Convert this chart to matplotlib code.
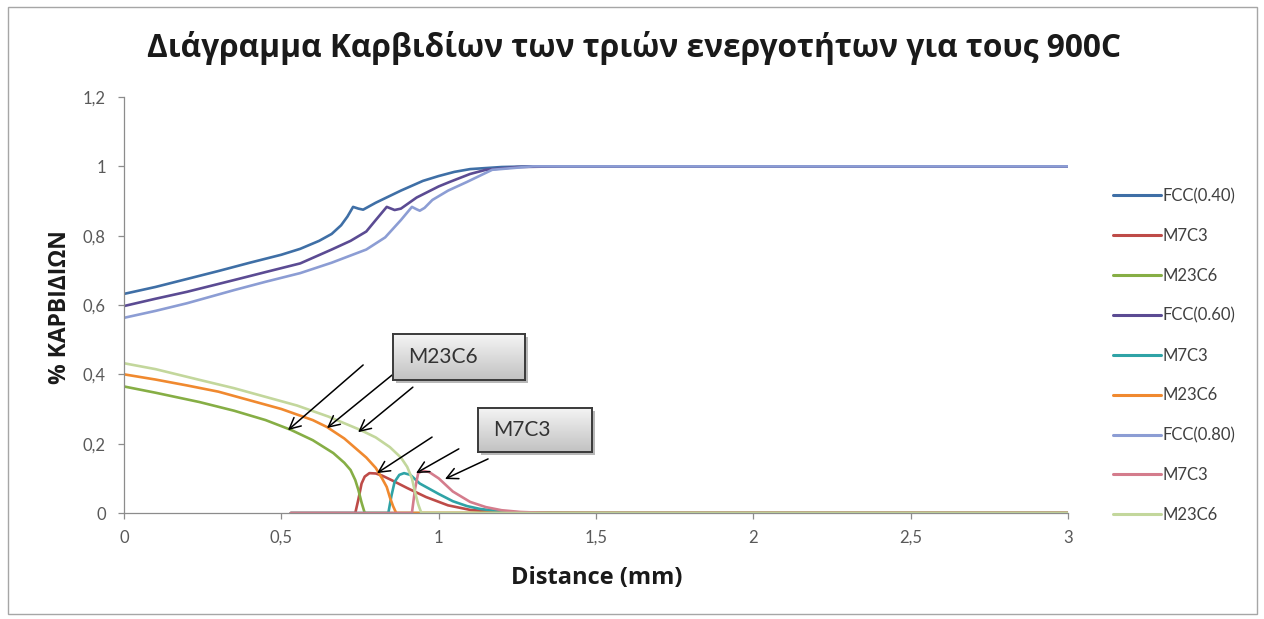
import numpy as np
import matplotlib
matplotlib.use("Agg")
import matplotlib.pyplot as plt
from matplotlib.ticker import FuncFormatter, MultipleLocator
from matplotlib.patches import Rectangle

# ---- data ----
fcc40_x = [0, 0.1, 0.2, 0.3, 0.4, 0.5, 0.56, 0.62, 0.66, 0.69, 0.71, 0.728, 0.745, 0.76,
           0.8, 0.88, 0.95, 1.0, 1.05, 1.1, 1.2, 1.3, 1.5, 2.0, 2.5, 3.0]
fcc40_y = [0.632, 0.652, 0.675, 0.698, 0.722, 0.745, 0.762, 0.785, 0.805, 0.83, 0.855, 0.883,
           0.878, 0.875, 0.895, 0.93, 0.958, 0.972, 0.984, 0.992, 0.998, 1.0, 1.0, 1.0, 1.0, 1.0]

fcc60_x = [0, 0.1, 0.2, 0.35, 0.45, 0.56, 0.66, 0.72, 0.77, 0.8, 0.835, 0.86, 0.88, 0.93,
           1.0, 1.035, 1.1, 1.15, 1.25, 1.4, 2.0, 3.0]
fcc60_y = [0.597, 0.618, 0.638, 0.672, 0.695, 0.72, 0.76, 0.785, 0.812, 0.845, 0.883, 0.874,
           0.878, 0.91, 0.942, 0.955, 0.978, 0.99, 0.998, 1.0, 1.0, 1.0]

fcc80_x = [0, 0.1, 0.2, 0.35, 0.45, 0.56, 0.66, 0.77, 0.83, 0.88, 0.915, 0.93, 0.94, 0.955,
           0.98, 1.03, 1.09, 1.17, 1.3, 1.5, 2.0, 3.0]
fcc80_y = [0.563, 0.583, 0.605, 0.643, 0.667, 0.692, 0.722, 0.76, 0.795, 0.845, 0.883, 0.876,
           0.872, 0.88, 0.903, 0.93, 0.955, 0.99, 1.0, 1.0, 1.0, 1.0]

m23_40_x = [0, 0.1, 0.24, 0.35, 0.45, 0.53, 0.6, 0.665, 0.7, 0.72, 0.735, 0.745, 0.755,
            0.765, 0.8, 1.0, 1.5, 2.0, 2.5, 3.0]
m23_40_y = [0.365, 0.347, 0.32, 0.295, 0.268, 0.24, 0.21, 0.173, 0.145, 0.124, 0.095, 0.066,
            0.03, 0.0, 0, 0, 0, 0, 0, 0]

m23_60_x = [0, 0.1, 0.2, 0.3, 0.4, 0.5, 0.6, 0.645, 0.7, 0.77, 0.8, 0.82, 0.835, 0.845,
            0.855, 0.865, 0.9, 1.5, 2.0, 3.0]
m23_60_y = [0.40, 0.385, 0.368, 0.35, 0.325, 0.3, 0.268, 0.248, 0.215, 0.16, 0.13, 0.10,
            0.075, 0.045, 0.02, 0, 0, 0, 0, 0]

m23_80_x = [0, 0.1, 0.24, 0.35, 0.45, 0.55, 0.65, 0.75, 0.8, 0.845, 0.88, 0.9, 0.915,
            0.925, 0.935, 0.945, 1.0, 1.5, 2.0, 3.0]
m23_80_y = [0.432, 0.415, 0.384, 0.36, 0.335, 0.31, 0.278, 0.24, 0.218, 0.19, 0.16, 0.133,
            0.1, 0.06, 0.025, 0, 0, 0, 0, 0]

m7_40_x = [0.53, 0.7, 0.735, 0.745, 0.755, 0.765, 0.78, 0.8, 0.82, 0.85, 0.9, 0.96, 1.03,
           1.1, 1.2, 1.5, 2.0, 3.0]
m7_40_y = [0, 0, 0, 0.04, 0.085, 0.105, 0.115, 0.114, 0.108, 0.095, 0.072, 0.046, 0.022,
           0.009, 0.002, 0, 0, 0]

m7_60_x = [0.53, 0.8, 0.84, 0.85, 0.86, 0.875, 0.89, 0.91, 0.94, 0.97, 1.0, 1.045, 1.09,
           1.13, 1.2, 1.3, 1.5, 3.0]
m7_60_y = [0, 0, 0, 0.05, 0.09, 0.11, 0.115, 0.11, 0.085, 0.07, 0.055, 0.034, 0.02, 0.012,
           0.004, 0, 0, 0]

m7_80_x = [0.53, 0.9, 0.915, 0.925, 0.935, 0.95, 0.97, 1.0, 1.045, 1.1, 1.15, 1.2, 1.26,
           1.35, 1.5, 3.0]
m7_80_y = [0, 0, 0, 0.07, 0.115, 0.122, 0.118, 0.1, 0.062, 0.032, 0.017, 0.008, 0.003, 0,
           0, 0]

series = [
    ("FCC(0.40)", fcc40_x, fcc40_y, "#3F6FA6"),
    ("M7C3", m7_40_x, m7_40_y, "#BE4B48"),
    ("M23C6", m23_40_x, m23_40_y, "#86AE45"),
    ("FCC(0.60)", fcc60_x, fcc60_y, "#5B4B93"),
    ("M7C3", m7_60_x, m7_60_y, "#2FA3A6"),
    ("M23C6", m23_60_x, m23_60_y, "#F0892F"),
    ("FCC(0.80)", fcc80_x, fcc80_y, "#8C9DD4"),
    ("M7C3", m7_80_x, m7_80_y, "#D47C8C"),
    ("M23C6", m23_80_x, m23_80_y, "#C3D79C"),
]

# annotation callouts: (label, box in pixels [x0, y0, x1, y1], arrows as (start, tip) in data)
callouts = [
    ("M23C6", (393, 334, 525, 380),
     [((0.760, 0.427), (0.521, 0.239)),
      ((0.852, 0.398), (0.645, 0.245)),
      ((0.918, 0.363), (0.744, 0.233))]),
    ("M7C3", (478, 408, 592, 452),
     [((0.979, 0.219), (0.804, 0.115)),
      ((1.064, 0.185), (0.928, 0.115)),
      ((1.157, 0.156), (1.020, 0.098))]),
]

W, H = 1264, 619
fig = plt.figure(figsize=(W / 100, H / 100), dpi=100)
ax = fig.add_axes([124 / W, 1 - 513 / H, (1068 - 124) / W, (513 - 97) / H])

for label, xs, ys, color in series:
    ax.plot(xs, ys, color=color, lw=1.9, label=label, solid_capstyle="round")

ax.set_xlim(0, 3)
ax.set_ylim(0, 1.2)
ax.xaxis.set_major_locator(MultipleLocator(0.5))
ax.yaxis.set_major_locator(MultipleLocator(0.2))
fmt = FuncFormatter(lambda v, pos: f"{v:.10g}".replace(".", ","))
ax.xaxis.set_major_formatter(fmt)
ax.yaxis.set_major_formatter(fmt)

for side in ("top", "right"):
    ax.spines[side].set_visible(False)
for side in ("left", "bottom"):
    ax.spines[side].set_color("#8C8C8C")
    ax.spines[side].set_linewidth(0.9)
ax.tick_params(direction="out", length=4, width=0.9, color="#8C8C8C",
               labelcolor="#595959", labelsize=12)
ax.tick_params(axis="y", pad=9)
ax.tick_params(axis="x", pad=8)
for lab in ax.get_xticklabels() + ax.get_yticklabels():
    lab.set_family(["Lato", "DejaVu Sans"])

fig.text(634 / W, 1 - 48 / H,
         "Διάγραμμα Καρβιδίων των τριών ενεργοτήτων για τους 900C",
         ha="center", va="center", fontsize=22.8, fontweight="bold",
         family=["Open Sans", "DejaVu Sans"], color="#1a1a1a")
fig.text(60 / W, 1 - 307 / H, "% ΚΑΡΒΙΔΙΩΝ", rotation=90, ha="center", va="center",
         fontsize=16.5, fontweight="bold", family=["Open Sans", "DejaVu Sans"], color="#1a1a1a")
fig.text(597 / W, 1 - 578 / H, "Distance (mm)", ha="center", va="center",
         fontsize=17, fontweight="bold", family=["Open Sans", "DejaVu Sans"], color="#1a1a1a")

leg = fig.legend(loc="upper left", bbox_to_anchor=(1098 / W, 1 - 173 / H),
                 frameon=False, handlelength=2.9, handletextpad=0.1,
                 labelspacing=1.43, prop={"family": ["Lato", "DejaVu Sans"], "size": 12})
for t in leg.get_texts():
    t.set_color("#404040")
for ln in leg.get_lines():
    ln.set_linewidth(2.2)

# callout boxes and arrows
shade = np.linspace(0.96, 0.76, 64)
grad = np.stack([shade, shade, shade], axis=-1).reshape(-1, 1, 3)
for text, (x0, y0, x1, y1), arrows in callouts:
    shadow = Rectangle(((x0 + 3) / W, 1 - (y1 + 3) / H), (x1 - x0) / W, (y1 - y0) / H,
                       transform=fig.transFigure, facecolor="#8a8a8a", edgecolor="none",
                       alpha=0.6, zorder=5)
    fig.patches.append(shadow)
    bax = fig.add_axes([x0 / W, 1 - y1 / H, (x1 - x0) / W, (y1 - y0) / H], zorder=6)
    bax.imshow(grad, aspect="auto", extent=(0, 1, 0, 1), origin="upper")
    bax.set_xticks([])
    bax.set_yticks([])
    for sp in bax.spines.values():
        sp.set_color("#3a3a3a")
        sp.set_linewidth(1.4)
    bax.text(15 / (x1 - x0), 0.5, text, ha="left", va="center", fontsize=15,
             family=["Lato", "DejaVu Sans"], color="#333333", transform=bax.transAxes)
    for start, tip in arrows:
        ax.annotate("", xy=tip, xytext=start, xycoords="data", textcoords="data",
                    arrowprops=dict(arrowstyle="->", color="black", lw=1.1,
                                    mutation_scale=20, shrinkA=0, shrinkB=0))

# outer chart border
fig.patches.append(Rectangle((8 / W, 5 / H), (1257 - 8) / W, (614 - 7) / H,
                             transform=fig.transFigure, fill=False,
                             edgecolor="#A6A6A6", lw=1.0))

fig.savefig("out.png", dpi=100)
